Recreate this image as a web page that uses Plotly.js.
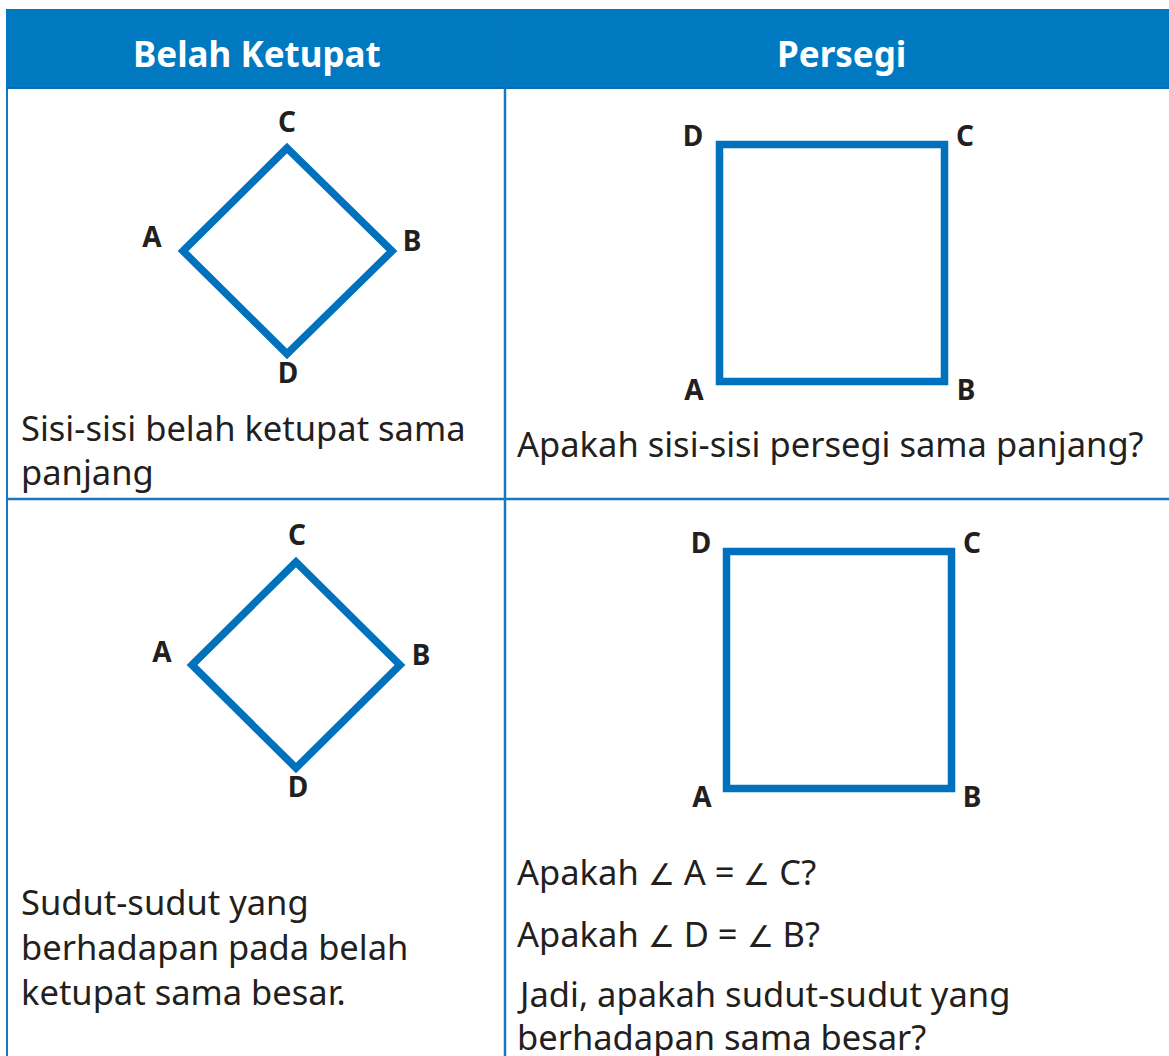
<!DOCTYPE html>
<html>
<head>
<meta charset="utf-8">
<script src="https://cdn.plot.ly/plotly-3.0.1.min.js"></script>
<style>html,body{margin:0;padding:0;background:#fff;}#chart{width:1169px;height:1056px;}</style>
</head>
<body>
<div id="chart"></div>
<script>
// ---- data (page units: x right, y down) ----
const headers = ["Belah Ketupat", "Persegi"];
const headerX = [257, 841];

// vertex order A, C, B, D (rhombus) and A, D, C, B (square)
const rhombusTopX = [183, 287, 392, 287];
const rhombusTopY = [251, 148, 251, 354];
const rhombusBotX = [192, 296, 400, 296];
const rhombusBotY = [665, 562, 665, 768];
const rhombusLabels = ["A", "C", "B", "D"];
const rhombusTopLabelX = [152, 287, 412, 288];
const rhombusTopLabelY = [240, 125, 244, 376];
const rhombusBotLabelX = [162, 297, 421, 298];
const rhombusBotLabelY = [655, 538, 658, 790];

const squareTopX = [719.5, 719.5, 944.5, 944.5];
const squareTopY = [381.5, 144.5, 144.5, 381.5];
const squareBotX = [726.5, 726.5, 951.5, 951.5];
const squareBotY = [788.5, 551.5, 551.5, 788.5];
const squareLabels = ["A", "D", "C", "B"];
const squareTopLabelX = [694, 693, 965, 966];
const squareTopLabelY = [393, 139, 139, 393];
const squareBotLabelX = [702, 701, 972, 972];
const squareBotLabelY = [800, 546, 546, 800];

const leftTexts = ["Sisi-sisi belah ketupat sama", "panjang",
                   "Sudut-sudut yang", "berhadapan pada belah", "ketupat sama besar."];
const leftTextY = [427, 471, 901, 946, 991];
const rightTexts = ["Apakah sisi-sisi persegi sama panjang?",
                    "Apakah ∠ A = ∠ C?", "Apakah ∠ D = ∠ B?",
                    "Jadi, apakah sudut-sudut yang", "berhadapan sama besar?"];
const rightTextY = [443, 871, 933, 993, 1036];

// table grid
const tableLeft = 7, tableRight = 1180, tableTop = 9, headerBottom = 89;
const colDivider = 505, rowDivider = 499, tableBottom = 1070;

// ---- styles ----
const BLUE = "#0071bc";
const HEADER = "#0079c1";
const GRID = "#1479c0";
const TEXT = "#231f20";
const FONT = "Noto Sans, Open Sans, sans-serif";

function polyTrace(xs, ys) {
  return {
    type: "scatter", mode: "lines",
    x: xs.concat([xs[0], xs[1]]), y: ys.concat([ys[0], ys[1]]),
    line: {color: BLUE, width: 7.5, shape: "linear"},
    hoverinfo: "skip", showlegend: false
  };
}
function labelTrace(xs, ys, labels) {
  return {
    type: "scatter", mode: "text", x: xs, y: ys, text: labels,
    textposition: "middle center",
    textfont: {family: FONT, size: 28, color: TEXT, weight: 700},
    hoverinfo: "skip", showlegend: false
  };
}
// angle sign drawn at about cap height, as in the reference
function angleText(t) {
  return t.replace(/∠/g, '<span style="font-size:30px">∠</span>');
}

const traces = [
  polyTrace(rhombusTopX, rhombusTopY),
  polyTrace(rhombusBotX, rhombusBotY),
  polyTrace(squareTopX, squareTopY),
  polyTrace(squareBotX, squareBotY),
  labelTrace(rhombusTopLabelX, rhombusTopLabelY, rhombusLabels),
  labelTrace(rhombusBotLabelX, rhombusBotLabelY, rhombusLabels),
  labelTrace(squareTopLabelX, squareTopLabelY, squareLabels),
  labelTrace(squareBotLabelX, squareBotLabelY, squareLabels)
];

const annotations = [];
headers.forEach((h, i) => annotations.push({
  x: headerX[i], y: 53, xref: "x", yref: "y", text: "<b>" + h + "</b>",
  showarrow: false, xanchor: "center", yanchor: "middle",
  font: {family: FONT, size: 35, color: "#ffffff"}
}));
leftTexts.forEach((t, i) => annotations.push({
  x: 19, y: leftTextY[i], xref: "x", yref: "y", text: t,
  showarrow: false, xanchor: "left", yanchor: "middle",
  font: {family: FONT, size: 34.5, color: TEXT}
}));
rightTexts.forEach((t, i) => annotations.push({
  x: 515, y: rightTextY[i], xref: "x", yref: "y", text: angleText(t),
  showarrow: false, xanchor: "left", yanchor: "middle",
  font: {family: FONT, size: 34.5, color: TEXT}
}));

const shapes = [
  {type: "rect", xref: "x", yref: "y", x0: tableLeft - 1, x1: tableRight, y0: tableTop, y1: headerBottom,
   fillcolor: HEADER, line: {width: 0}, layer: "below"},
  {type: "line", xref: "x", yref: "y", x0: tableLeft - 1, x1: tableRight, y0: headerBottom - 1, y1: headerBottom - 1,
   line: {color: "#0a6cb0", width: 2}},
  {type: "line", xref: "x", yref: "y", x0: colDivider, x1: colDivider, y0: tableTop, y1: headerBottom - 2,
   line: {color: "#0b75bb", width: 1}},
  {type: "line", xref: "x", yref: "y", x0: tableLeft, x1: tableLeft, y0: headerBottom, y1: tableBottom,
   line: {color: GRID, width: 2}},
  {type: "line", xref: "x", yref: "y", x0: colDivider, x1: colDivider, y0: headerBottom, y1: tableBottom,
   line: {color: GRID, width: 2.5}},
  {type: "line", xref: "x", yref: "y", x0: tableLeft, x1: tableRight, y0: rowDivider, y1: rowDivider,
   line: {color: GRID, width: 2.5}}
];

const layout = {
  width: 1169, height: 1056,
  margin: {l: 0, r: 0, t: 0, b: 0, pad: 0},
  paper_bgcolor: "#ffffff", plot_bgcolor: "#ffffff",
  xaxis: {range: [0, 1169], visible: false, fixedrange: true},
  yaxis: {range: [1056, 0], visible: false, fixedrange: true},
  showlegend: false,
  annotations: annotations,
  shapes: shapes
};

Plotly.newPlot("chart", traces, layout, {staticPlot: true, displayModeBar: false});
</script>
</body>
</html>
